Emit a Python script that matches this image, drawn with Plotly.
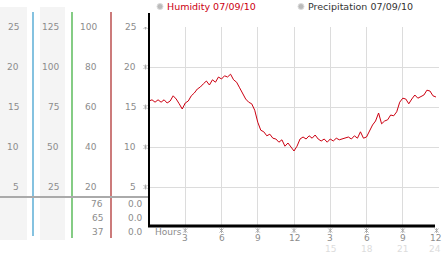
import plotly.graph_objects as go

# ---- data ----
hours = [i * 0.25 for i in range(96)]
humidity = [15.75, 15.9, 15.6, 15.9, 15.6, 15.9, 15.5, 15.75, 16.4, 16.0, 15.4, 14.75,
            15.5, 15.75, 16.4, 16.75, 17.25, 17.5, 17.9, 18.25, 17.75, 18.4, 18.1, 18.75,
            18.5, 18.9, 18.75, 19.1, 18.4, 18.1, 17.4, 16.75, 16.0, 15.6, 15.4, 14.6,
            13.1, 12.1, 11.9, 11.4, 11.6, 11.1, 11.0, 10.6, 10.9, 10.1, 10.5, 10.0,
            9.5, 10.1, 11.0, 11.25, 11.0, 11.4, 11.1, 11.5, 11.0, 10.75, 11.0, 10.6,
            11.0, 10.75, 11.1, 10.9, 11.0, 11.1, 11.25, 11.0, 11.4, 11.1, 11.9, 11.1,
            11.25, 12.0, 12.75, 13.25, 14.25, 12.9, 13.25, 13.4, 14.0, 13.9, 14.4, 15.6,
            16.1, 16.0, 15.4, 16.0, 16.5, 16.1, 16.25, 16.5, 17.1, 17.0, 16.4, 16.25]
x_ticks = [3, 6, 9, 12, 15, 18, 21, 24]
x_tick_labels = ["3", "6", "9", "12", "3", "6", "9", "12"]
x_tick_sub = {15: "15", 18: "18", 21: "21", 24: "24"}
y_ticks = [5, 10, 15, 20, 25]
col1_labels = ["5", "10", "15", "20", "25"]
col2_labels = ["25", "50", "75", "100", "125"]
col3_labels = ["20", "40", "60", "80", "100"]
col4_labels = ["5", "10", "15", "20", "25"]
col3_extra = ["76", "65", "37"]
col4_extra = ["0.0", "0.0", "0.0"]
legend_items = ["Humidity 07/09/10", "Precipitation 07/09/10"]

# ---- layout helpers (pixel -> paper) ----
WIDTH, HEIGHT = 442, 253
L, W, T, H = 149, 290, 27, 200


def xp(px):
    return (px - L) / W


def yp(py):
    return (T + H - py) / H


GRAY = "#8c8c8c"
FONT = "DejaVu Sans"

fig = go.Figure()
fig.add_trace(go.Scatter(x=hours, y=humidity, mode="lines",
                         line=dict(color="#cc0011", width=1), hoverinfo="skip"))

shapes = []
ann = []

GLYPH = "M -2,-2 L 2,2 M -2,2 L 2,-2 M 0,-2.5 L 0,2.5"


def tick_glyph(xref, xanchor, yref, yanchor):
    return dict(type="path", xref=xref, yref=yref, xsizemode="pixel", ysizemode="pixel",
                xanchor=xanchor, yanchor=yanchor, path=GLYPH,
                line=dict(color="#a0a0a0", width=0.8))


for yv in y_ticks:
    shapes.append(tick_glyph("paper", xp(145.5), "y", yv))
for xv in x_ticks:
    xa = xv if xv < 24 else 23.8
    shapes.append(tick_glyph("x", xa, "paper", yp(230.5)))

# left panel backgrounds
for x0, x1 in [(0, 27), (40, 65)]:
    shapes.append(dict(type="rect", xref="paper", yref="paper", x0=xp(x0), x1=xp(x1),
                       y0=yp(240), y1=yp(7), fillcolor="#f4f4f4", line=dict(width=0), layer="below"))
# coloured vertical lines
for xx, col, yb in [(33, "#3399cc", 236), (72, "#33aa33", 238), (111, "#aa2222", 238)]:
    shapes.append(dict(type="line", xref="paper", yref="paper", x0=xp(xx), x1=xp(xx),
                       y0=yp(yb), y1=yp(12), line=dict(color=col, width=1.2)))
# gray horizontal separator
shapes.append(dict(type="line", xref="paper", yref="paper", x0=xp(0), x1=xp(149),
                   y0=yp(197), y1=yp(197), line=dict(color="#aaaaaa", width=2)))
# axes
shapes.append(dict(type="line", xref="paper", yref="paper", x0=xp(149), x1=xp(149),
                   y0=yp(227), y1=yp(13), line=dict(color="black", width=2)))
shapes.append(dict(type="line", xref="paper", yref="paper", x0=xp(148), x1=xp(435),
                   y0=yp(226), y1=yp(226), line=dict(color="black", width=3)))

# left columns labels
for yv, a, b, c, d in zip(y_ticks, col1_labels, col2_labels, col3_labels, col4_labels):
    for xx, t in [(21, a), (61, b), (99, c), (138, d)]:
        ann.append(dict(x=xp(xx), xref="paper", y=yv, yref="y", text=t, showarrow=False,
                        xanchor="right", yanchor="middle", font=dict(family=FONT, size=9, color=GRAY)))
for py, c, d in zip([204, 218, 232], col3_extra, col4_extra):
    ann.append(dict(x=xp(105), xref="paper", y=yp(py), yref="paper", text=c, showarrow=False,
                    xanchor="right", yanchor="middle", font=dict(family=FONT, size=9, color=GRAY)))
    ann.append(dict(x=xp(145), xref="paper", y=yp(py), yref="paper", text=d, showarrow=False,
                    xanchor="right", yanchor="middle", font=dict(family=FONT, size=9, color=GRAY)))

# x tick labels
ann.append(dict(x=xp(153), xref="paper", y=yp(232), yref="paper", text="Hours", showarrow=False,
                xanchor="left", yanchor="middle", font=dict(family=FONT, size=9, color=GRAY)))
for xv, t in zip(x_ticks, x_tick_labels):
    if xv < 24:
        pos = dict(x=xv, xref="x", xanchor="center")
    else:
        pos = dict(x=xp(442), xref="paper", xanchor="right")
    ann.append(dict(**pos, y=yp(237.5), yref="paper", text=t, showarrow=False, borderpad=0,
                    yanchor="middle", font=dict(family=FONT, size=9, color=GRAY)))
    if xv in x_tick_sub:
        ann.append(dict(**pos, y=yp(248.5), yref="paper", text=x_tick_sub[xv], showarrow=False,
                        borderpad=0, yanchor="middle", font=dict(family=FONT, size=9, color="#dcdcdc")))

# legend
for cx, txt, col in [(160, legend_items[0], "#cc0011"), (301, legend_items[1], "#333333")]:
    shapes.append(dict(type="circle", xref="paper", yref="paper", x0=xp(cx - 3), x1=xp(cx + 3),
                       y0=yp(9.5), y1=yp(3.5), fillcolor="#bbbbbb", line=dict(color="#dddddd", width=1)))
    ann.append(dict(x=xp(cx + 4.5), xref="paper", y=yp(6.5), yref="paper", text=txt, showarrow=False,
                    xanchor="left", yanchor="middle", font=dict(family=FONT, size=9.5, color=col)))

fig.update_layout(
    width=WIDTH, height=HEIGHT,
    margin=dict(l=L, r=WIDTH - L - W, t=T, b=HEIGHT - T - H, pad=0),
    paper_bgcolor="white", plot_bgcolor="white",
    showlegend=False,
    shapes=shapes, annotations=ann,
    xaxis=dict(range=[0, 24], tickvals=x_ticks, showticklabels=False, showgrid=True,
               gridcolor="#dcdcdc", gridwidth=1, zeroline=False, showline=False, fixedrange=True),
    yaxis=dict(range=[0, 25], tickvals=y_ticks, showticklabels=False, showgrid=True,
               gridcolor="#dcdcdc", gridwidth=1, zeroline=False, showline=False, fixedrange=True),
)

fig.write_html("out.html", config={"displayModeBar": False})
